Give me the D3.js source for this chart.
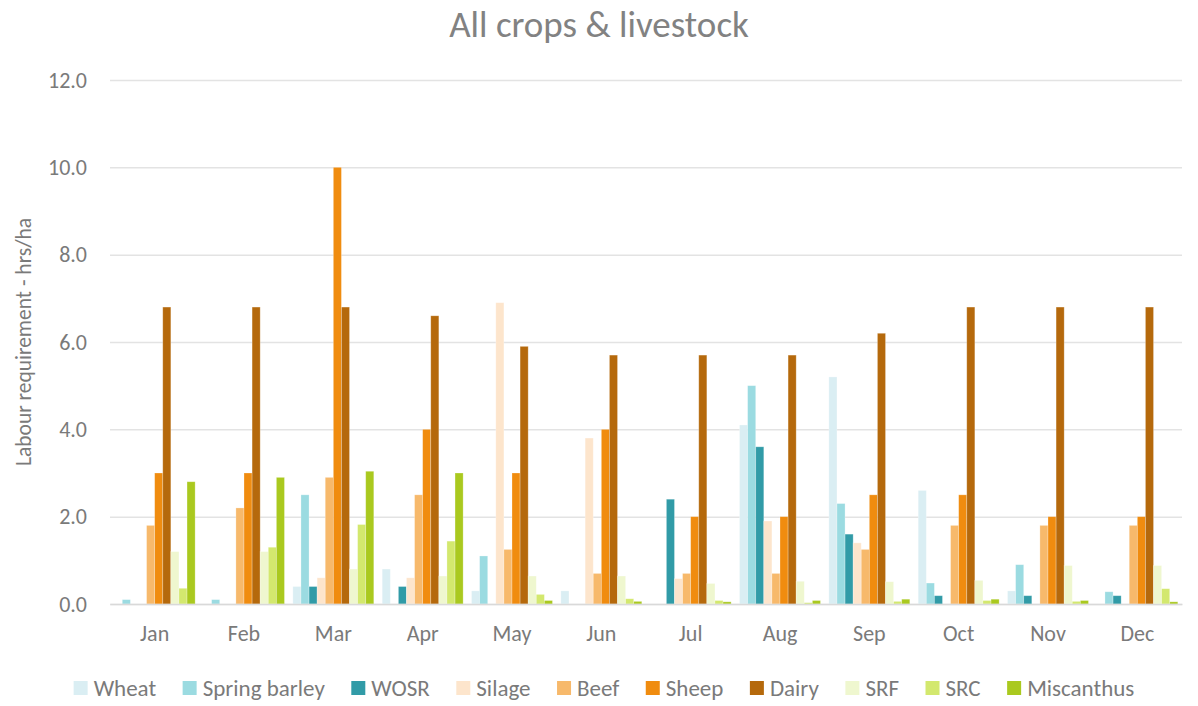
<!DOCTYPE html>
<html>
<head>
<meta charset="utf-8">
<script src="https://cdn.jsdelivr.net/npm/d3@7"></script>
<style>
  body { margin: 0; background: #fff; }
  text { font-family: Calibri, Carlito, "Open Sans", sans-serif; }
</style>
</head>
<body>
<svg id="chart" width="1198" height="706"></svg>
<script>
"use strict";

// months on the x axis
var months = ["Jan", "Feb", "Mar", "Apr", "May", "Jun", "Jul", "Aug", "Sep", "Oct", "Nov", "Dec"];

// series names (legend order)
var seriesNames = ["Wheat", "Spring barley", "WOSR", "Silage", "Beef", "Sheep", "Dairy", "SRF", "SRC", "Miscanthus"];
var seriesColors = ["#DAEEF3", "#9BDBE1", "#319BA7", "#FDE5CC", "#F7B96B", "#F08C0F", "#B5690C", "#EFF7CF", "#D3E86E", "#AAC91F"];

// labour requirement, hrs/ha, one value per month
var wheat        = [0,    0,    0.4,  0.8,  0.3,  0.3,  0,    4.1,  5.2,  2.6,  0.3,  0];
var springBarley = [0.1,  0.1,  2.5,  0,    1.1,  0,    0,    5.0,  2.3,  0.48, 0.9,  0.28];
var wosr         = [0,    0,    0.4,  0.4,  0,    0,    2.4,  3.6,  1.6,  0.19, 0.19, 0.19];
var silage       = [0,    0,    0.6,  0.6,  6.9,  3.8,  0.58, 1.9,  1.4,  0,    0,    0];
var beef         = [1.8,  2.2,  2.9,  2.5,  1.25, 0.7,  0.7,  0.7,  1.25, 1.8,  1.8,  1.8];
var sheep        = [3.0,  3.0,  10.0, 4.0,  3.0,  4.0,  2.0,  2.0,  2.5,  2.5,  2.0,  2.0];
var dairy        = [6.8,  6.8,  6.8,  6.6,  5.9,  5.7,  5.7,  5.7,  6.2,  6.8,  6.8,  6.8];
var srf          = [1.2,  1.2,  0.8,  0.64, 0.64, 0.64, 0.47, 0.52, 0.51, 0.54, 0.88, 0.88];
var src          = [0.36, 1.3,  1.82, 1.44, 0.22, 0.12, 0.08, 0.03, 0.06, 0.08, 0.06, 0.35];
var miscanthus   = [2.8,  2.9,  3.04, 3.0,  0.08, 0.06, 0.05, 0.08, 0.11, 0.11, 0.08, 0.05];

var seriesValues = [wheat, springBarley, wosr, silage, beef, sheep, dairy, srf, src, miscanthus];

var yTicks = [0, 2, 4, 6, 8, 10, 12];

// layout
var plot = { left: 110, right: 1182, top: 80, bottom: 604 };
var svg = d3.select("#chart");

var x0 = d3.scaleBand().domain(months).range([plot.left, plot.right]).padding(0);
var x1 = d3.scaleBand().domain(seriesNames).range([4.2, x0.bandwidth() - 4.2]).padding(0);
var y = d3.scaleLinear().domain([0, 12]).range([plot.bottom, plot.top]);

// title
svg.append("text")
  .attr("x", 599).attr("y", 37)
  .attr("text-anchor", "middle")
  .attr("fill", "#828282")
  .style("font-size", "37px")
  .text("All crops & livestock");

// gridlines
var yAxis = d3.axisLeft(y).tickValues(yTicks).tickFormat(d3.format(".1f"))
  .tickSize(-(plot.right - plot.left)).tickPadding(23);
var gy = svg.append("g").attr("class", "y axis")
  .attr("transform", "translate(" + plot.left + ",0)")
  .call(yAxis);
gy.select(".domain").remove();
gy.selectAll(".tick line").attr("stroke", "#e3e3e3").attr("stroke-width", 1.5);
gy.selectAll(".tick text").attr("fill", "#7a7a7a").style("font-size", "22px");

// bars
var rows = months.map(function (m, i) {
  return seriesNames.map(function (s, j) {
    return { month: m, series: s, value: seriesValues[j][i], color: seriesColors[j] };
  });
});

svg.append("g").selectAll("g").data(rows).enter().append("g")
  .attr("transform", function (d, i) { return "translate(" + x0(months[i]) + ",0)"; })
  .selectAll("rect").data(function (d) { return d; }).enter().append("rect")
  .attr("x", function (d) { return x1(d.series); })
  .attr("width", x1.bandwidth())
  .attr("y", function (d) { return y(d.value); })
  .attr("height", function (d) { return y(0) - y(d.value); })
  .attr("fill", function (d) { return d.color; })
  .attr("stroke", "#ffffff").attr("stroke-opacity", 0.35).attr("stroke-width", 0.75);

// x axis
var xAxis = d3.axisBottom(x0).tickSize(0).tickPadding(21);
var gx = svg.append("g").attr("class", "x axis")
  .attr("transform", "translate(0," + plot.bottom + ")")
  .call(xAxis);
gx.select(".domain").attr("stroke", "#d9d9d9").attr("stroke-width", 1.5);
gx.selectAll(".tick text").attr("fill", "#7a7a7a").style("font-size", "22px");

// y axis title
svg.append("text")
  .attr("transform", "translate(31," + ((plot.top + plot.bottom) / 2) + ") rotate(-90)")
  .attr("text-anchor", "middle")
  .attr("fill", "#7a7a7a")
  .style("font-size", "21.5px")
  .text("Labour requirement - hrs/ha");

// legend
var legend = svg.append("g").attr("class", "legend");
var items = legend.selectAll("g").data(seriesNames).enter().append("g");
items.append("rect")
  .attr("width", 14).attr("height", 14).attr("y", -7)
  .attr("fill", function (d, i) { return seriesColors[i]; });
items.append("text")
  .attr("x", 20).attr("dy", "0.35em")
  .attr("fill", "#7a7a7a")
  .style("font-size", "23px")
  .text(function (d) { return d; });

var gap = 26.5;
var pos = 0;
items.each(function () {
  var w = 20 + this.querySelector("text").getComputedTextLength();
  d3.select(this).attr("data-x", pos);
  pos += w + gap;
});
var total = pos - gap;
var startX = 604 - total / 2;
items.attr("transform", function () {
  return "translate(" + (startX + +this.getAttribute("data-x")) + ",688)";
});
</script>
</body>
</html>
